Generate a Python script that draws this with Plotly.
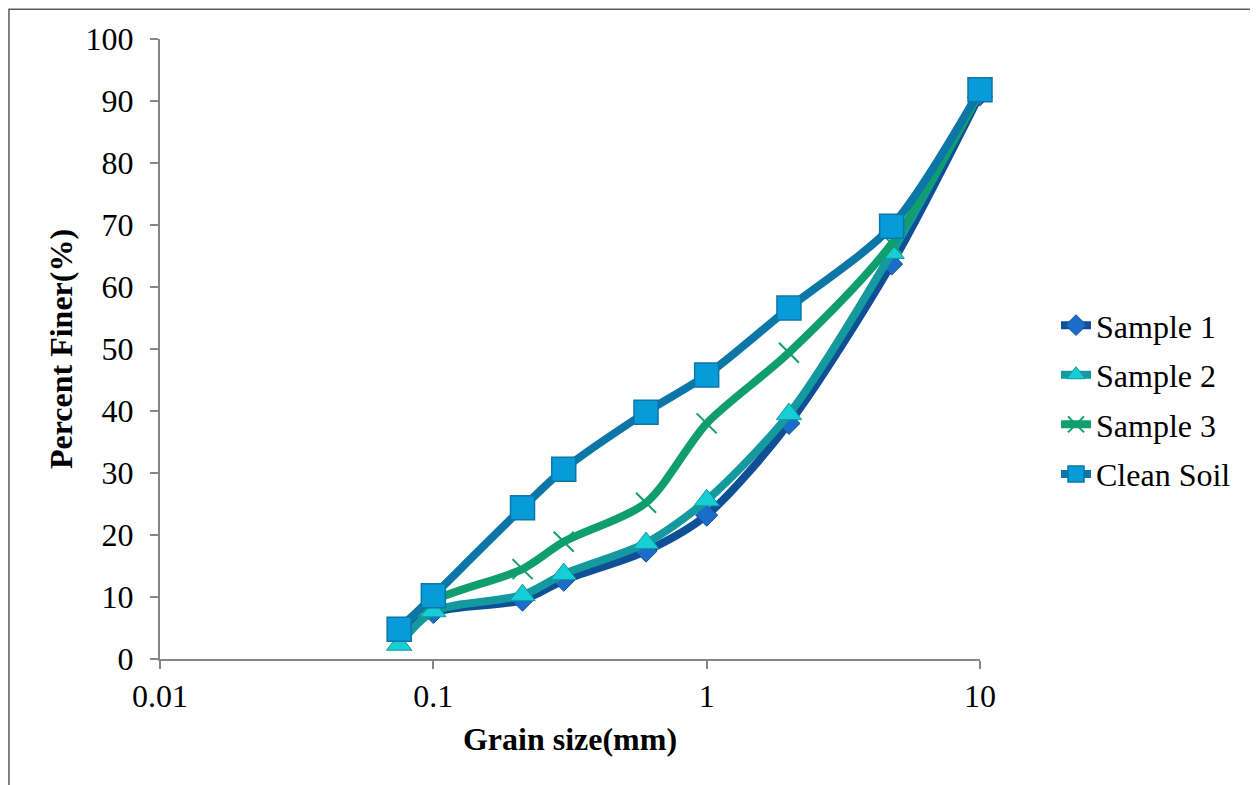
import plotly.graph_objects as go

grain_size = [0.075, 0.1, 0.212, 0.3, 0.6, 1, 2, 4.75, 10]
sample1 = [3.5, 7.5, 9.5, 12.7, 17.4, 23.2, 38.0, 63.7, 91.0]
sample2 = [2.3, 7.7, 10.3, 13.7, 18.7, 25.6, 39.5, 65.5, 91.5]
sample3 = [5.0, 9.4, 14.5, 18.9, 25.2, 38.0, 49.4, 67.0, 91.5]
clean_soil = [4.8, 10.2, 24.4, 30.6, 39.8, 45.8, 56.6, 69.8, 91.8]

series = [
    ("Sample 1", sample1, "#0E4F96", dict(symbol="diamond", size=17, color="#1A6DC8", line=dict(color="#0E4F96", width=1))),
    ("Sample 2", sample2, "#13999E", dict(symbol="triangle-up", size=22, color="#17CDD6", line=dict(color="#13999E", width=1))),
    ("Sample 3", sample3, "#109E6E", dict(symbol="x-thin", size=20, color="#109E6E", line=dict(color="#109E6E", width=2))),
    ("Clean Soil", clean_soil, "#0C76A6", dict(symbol="square", size=24, color="#079BDA", line=dict(color="#0C76A6", width=1.5))),
]

FONT = "Liberation Serif, Times New Roman, serif"
FS = 32
fig = go.Figure()
for i, (name, vals, lc, mk) in enumerate(series):
    fig.add_trace(go.Scatter(
        x=grain_size, y=vals, name=name, mode="lines+markers",
        legendgroup=f"g{i}", cliponaxis=False,
        line=dict(color=lc, width=8, shape="spline", smoothing=0.8),
        marker=mk,
    ))

fig.update_layout(
    width=1250, height=777,
    margin=dict(l=152, r=278, t=31, b=126),
    paper_bgcolor="white", plot_bgcolor="white",
    font=dict(family=FONT, size=FS, color="black"),
    showlegend=True,
    legend=dict(x=1.0927, y=0.418, xanchor="left", yanchor="middle",
                font=dict(family=FONT, size=FS, color="black"),
                itemwidth=30, tracegroupgap=5, traceorder="grouped",
                bgcolor="rgba(0,0,0,0)"),
    xaxis=dict(type="log", range=[-2, 1], showgrid=False, zeroline=False,
               showline=True, linecolor="#868686", linewidth=2,
               ticks="outside", ticklen=8, tickcolor="#868686", tickwidth=2,
               tickvals=[0.01, 0.1, 1, 10], ticktext=["0.01", "0.1", "1", "10"],
               tickfont=dict(family=FONT, size=FS, color="black"),
               title=dict(text="<b>Grain size(mm)</b>", font=dict(family=FONT, size=FS, color="black"), standoff=14)),
    yaxis=dict(range=[0, 100], showgrid=False, zeroline=False,
               showline=True, linecolor="#868686", linewidth=2,
               ticks="outside", ticklen=8, tickcolor="#868686", tickwidth=2,
               ticklabelstandoff=10,
               tickvals=list(range(0, 101, 10)),
               tickfont=dict(family=FONT, size=FS, color="black"),
               title=dict(text="<b>Percent Finer(%)</b>", font=dict(family=FONT, size=FS, color="black"), standoff=3)),
)

# outer frame of the chart area
fig.add_shape(type="path", xref="paper", yref="paper",
              path="M -0.1842,-0.3 L -0.1842,1.048 L 1.3305,1.048 L 1.3305,-0.3",
              line=dict(color="#5a5a5a", width=1.5))

fig.write_html("out.html")
